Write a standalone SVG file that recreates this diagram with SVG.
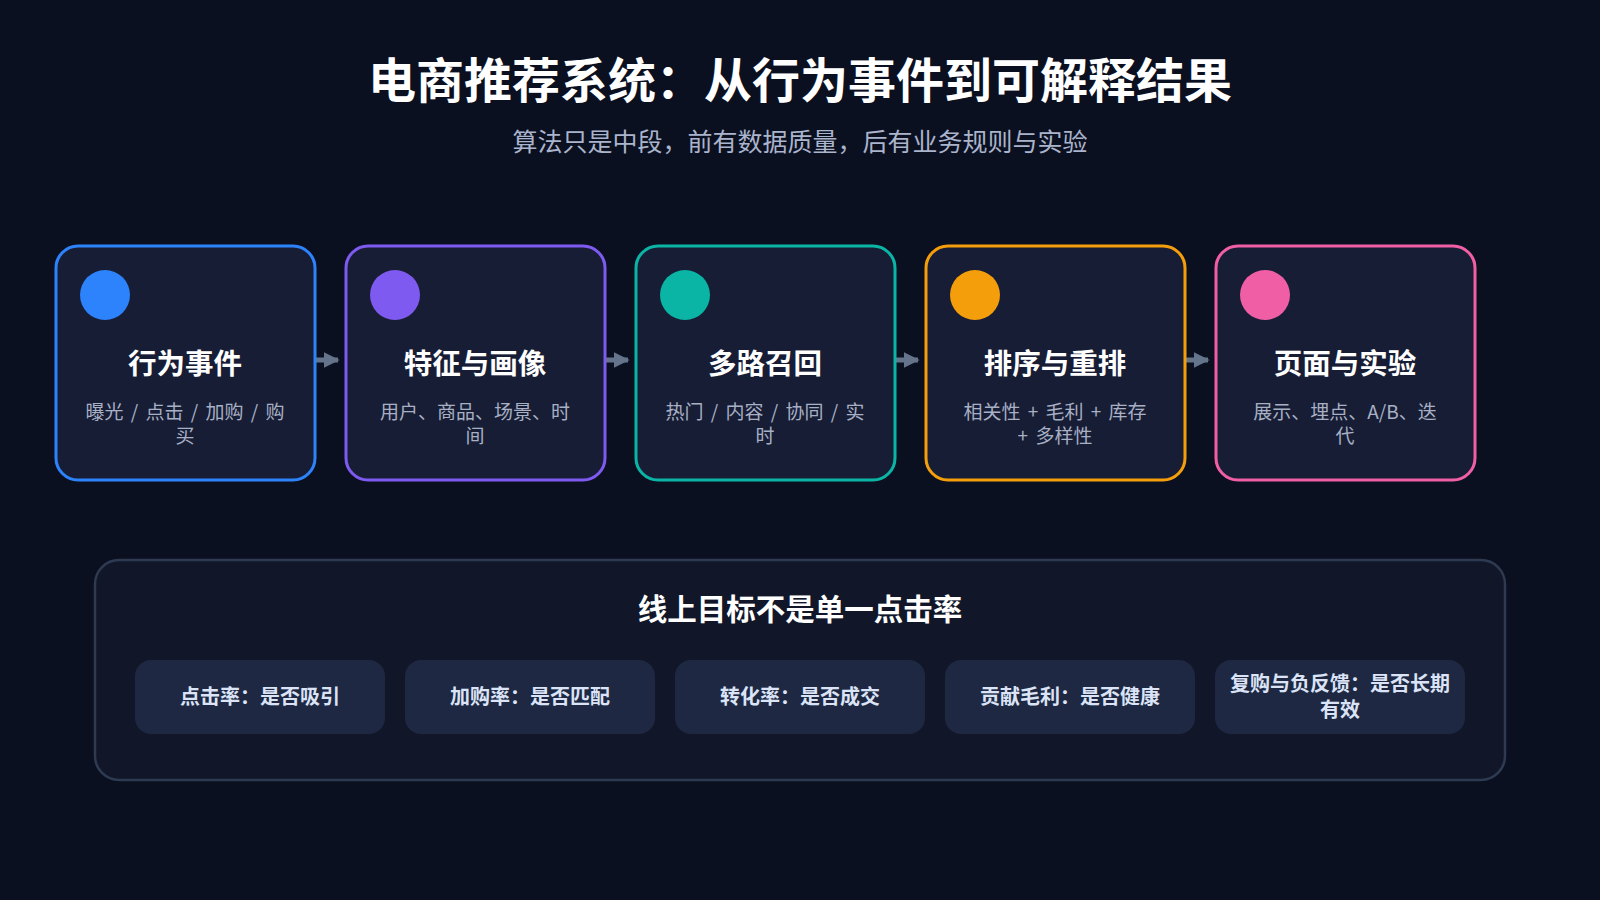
<svg xmlns="http://www.w3.org/2000/svg" width="1600" height="900" viewBox="0 0 1600 900">
<defs>
<marker id="ah" viewBox="0 0 10 10" refX="9" refY="5" markerWidth="3.2" markerHeight="3.6" orient="auto" markerUnits="strokeWidth">
<path d="M0,0 L10,5 L0,10 z" fill="#64748b"/>
</marker>
<style>
text{font-family:"Noto Sans CJK SC","Noto Sans",sans-serif;text-anchor:middle}
.title{font-size:48px;font-weight:700;fill:#ffffff}
.sub{font-size:25px;fill:#aab4cc}
.card{fill:#171d35;stroke-width:3}
.ctitle{font-size:28.5px;font-weight:700;fill:#ffffff}
.cdesc{font-size:19px;fill:#a7b0c4;word-spacing:3px}
.conn{stroke:#64748b;stroke-width:5;fill:none}
.panel{fill:#111729;stroke:#2e3a52;stroke-width:2.5}
.ptitle{font-size:29.5px;font-weight:700;fill:#ffffff}
.pill{fill:#1f2842}
.ptext{font-size:20px;font-weight:700;fill:#dbe4f7}
</style>
</defs>
<rect width="1600" height="900" fill="#0b1020"/>
<text class="title" x="800" y="98">电商推荐系统：从行为事件到可解释结果</text>
<text class="sub" x="800" y="151">算法只是中段，前有数据质量，后有业务规则与实验</text>

<g id="connectors">
<line class="conn" x1="316" y1="360" x2="338" y2="360" marker-end="url(#ah)"/>
<line class="conn" x1="606" y1="360" x2="628" y2="360" marker-end="url(#ah)"/>
<line class="conn" x1="896" y1="360" x2="918" y2="360" marker-end="url(#ah)"/>
<line class="conn" x1="1186" y1="360" x2="1208" y2="360" marker-end="url(#ah)"/>
</g>

<g id="node1">
<rect class="card" x="56" y="246" width="259" height="234" rx="22" stroke="#2d83fb"/>
<circle cx="105" cy="295" r="25" fill="#2d83fb"/>
<text class="ctitle" x="185" y="374">行为事件</text>
<text class="cdesc" x="185" y="419">曝光 / 点击 / 加购 / 购</text>
<text class="cdesc" x="185" y="443">买</text>
</g>
<g id="node2">
<rect class="card" x="346" y="246" width="259" height="234" rx="22" stroke="#7f5af0"/>
<circle cx="395" cy="295" r="25" fill="#7f5af0"/>
<text class="ctitle" x="475" y="374">特征与画像</text>
<text class="cdesc" x="475" y="419">用户、商品、场景、时</text>
<text class="cdesc" x="475" y="443">间</text>
</g>
<g id="node3">
<rect class="card" x="636" y="246" width="259" height="234" rx="22" stroke="#0bb5a5"/>
<circle cx="685" cy="295" r="25" fill="#0bb5a5"/>
<text class="ctitle" x="765" y="374">多路召回</text>
<text class="cdesc" x="765" y="419">热门 / 内容 / 协同 / 实</text>
<text class="cdesc" x="765" y="443">时</text>
</g>
<g id="node4">
<rect class="card" x="926" y="246" width="259" height="234" rx="22" stroke="#f59e0b"/>
<circle cx="975" cy="295" r="25" fill="#f59e0b"/>
<text class="ctitle" x="1055" y="374">排序与重排</text>
<text class="cdesc" x="1055" y="419">相关性 + 毛利 + 库存</text>
<text class="cdesc" x="1055" y="443">+ 多样性</text>
</g>
<g id="node5">
<rect class="card" x="1216" y="246" width="259" height="234" rx="22" stroke="#f05fa6"/>
<circle cx="1265" cy="295" r="25" fill="#f05fa6"/>
<text class="ctitle" x="1345" y="374">页面与实验</text>
<text class="cdesc" x="1345" y="419">展示、埋点、A/B、迭</text>
<text class="cdesc" x="1345" y="443">代</text>
</g>

<g id="panel">
<rect class="panel" x="95" y="560" width="1410" height="220" rx="24"/>
<text class="ptitle" x="800" y="620">线上目标不是单一点击率</text>
</g>
<g id="goal1">
<rect class="pill" x="135" y="660" width="250" height="74" rx="16"/>
<text class="ptext" x="260" y="704">点击率：是否吸引</text>
</g>
<g id="goal2">
<rect class="pill" x="405" y="660" width="250" height="74" rx="16"/>
<text class="ptext" x="530" y="704">加购率：是否匹配</text>
</g>
<g id="goal3">
<rect class="pill" x="675" y="660" width="250" height="74" rx="16"/>
<text class="ptext" x="800" y="704">转化率：是否成交</text>
</g>
<g id="goal4">
<rect class="pill" x="945" y="660" width="250" height="74" rx="16"/>
<text class="ptext" x="1070" y="704">贡献毛利：是否健康</text>
</g>
<g id="goal5">
<rect class="pill" x="1215" y="660" width="250" height="74" rx="16"/>
<text class="ptext" x="1340" y="691">复购与负反馈：是否长期</text>
<text class="ptext" x="1340" y="717">有效</text>
</g>
</svg>
